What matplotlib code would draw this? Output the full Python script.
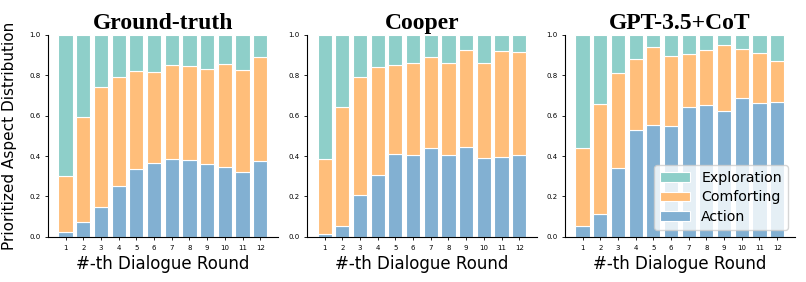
import matplotlib
matplotlib.use("Agg")
import matplotlib.pyplot as plt
import numpy as np

rounds = [str(i) for i in range(1, 13)]
titles = ["Ground-truth", "Cooper", "GPT-3.5+CoT"]

gt_action = [0.023, 0.072, 0.148, 0.250, 0.336, 0.366, 0.387, 0.380, 0.360, 0.344, 0.323, 0.374]
gt_action_comfort = [0.303, 0.593, 0.740, 0.794, 0.820, 0.819, 0.852, 0.845, 0.832, 0.857, 0.827, 0.891]

cooper_action = [0.016, 0.054, 0.208, 0.306, 0.410, 0.405, 0.438, 0.404, 0.445, 0.392, 0.397, 0.405]
cooper_action_comfort = [0.387, 0.644, 0.792, 0.840, 0.850, 0.863, 0.890, 0.860, 0.926, 0.860, 0.922, 0.916]

gpt_action = [0.053, 0.115, 0.343, 0.527, 0.555, 0.549, 0.643, 0.654, 0.621, 0.689, 0.662, 0.667]
gpt_action_comfort = [0.438, 0.657, 0.810, 0.881, 0.939, 0.898, 0.906, 0.926, 0.949, 0.932, 0.911, 0.871]

data = [(gt_action, gt_action_comfort), (cooper_action, cooper_action_comfort), (gpt_action, gpt_action_comfort)]

c_expl = "#8ECFC9"
c_comf = "#FFBE7A"
c_act = "#82B0D2"

fig = plt.figure(figsize=(8.06, 2.82), dpi=100)
lefts = [0.0596, 0.381, 0.701]
width = 0.285
bottom, height = 0.160, 0.716
x = np.arange(1, 13)
for i, (act, ac) in enumerate(data):
    ax = fig.add_axes([lefts[i], bottom, width, height])
    act = np.array(act)
    ac = np.array(ac)
    comf = ac - act
    expl = 1.0 - ac
    ax.bar(x, act, width=0.8, color=c_act, edgecolor="white", linewidth=0.8, label="Action")
    ax.bar(x, comf, bottom=act, width=0.8, color=c_comf, edgecolor="white", linewidth=0.8, label="Comforting")
    ax.bar(x, expl, bottom=ac, width=0.8, color=c_expl, edgecolor="white", linewidth=0.8, label="Exploration")
    ax.set_ylim(0, 1.0)
    ax.set_xticks(x)
    ax.set_xticklabels(rounds)
    ax.set_yticks([0, 0.2, 0.4, 0.6, 0.8, 1.0])
    ax.tick_params(labelsize=5, length=2, width=0.6)
    for s in ["top", "right"]:
        ax.spines[s].set_visible(False)
    ax.set_title(titles[i], fontsize=17, fontweight="bold", family="Liberation Serif", pad=4)
    ax.set_xlabel("#-th Dialogue Round", fontsize=12, labelpad=3)
    if i == 0:
        ax.set_ylabel("Prioritized Aspect Distribution", fontsize=11, labelpad=9)
    if i == 2:
        h, l = ax.get_legend_handles_labels()
        ax.legend(h[::-1], l[::-1], loc="lower right", fontsize=10.2, frameon=True,
                  framealpha=0.8, handlelength=2.1, labelspacing=0.4)

fig.savefig("out.png", dpi=100)
